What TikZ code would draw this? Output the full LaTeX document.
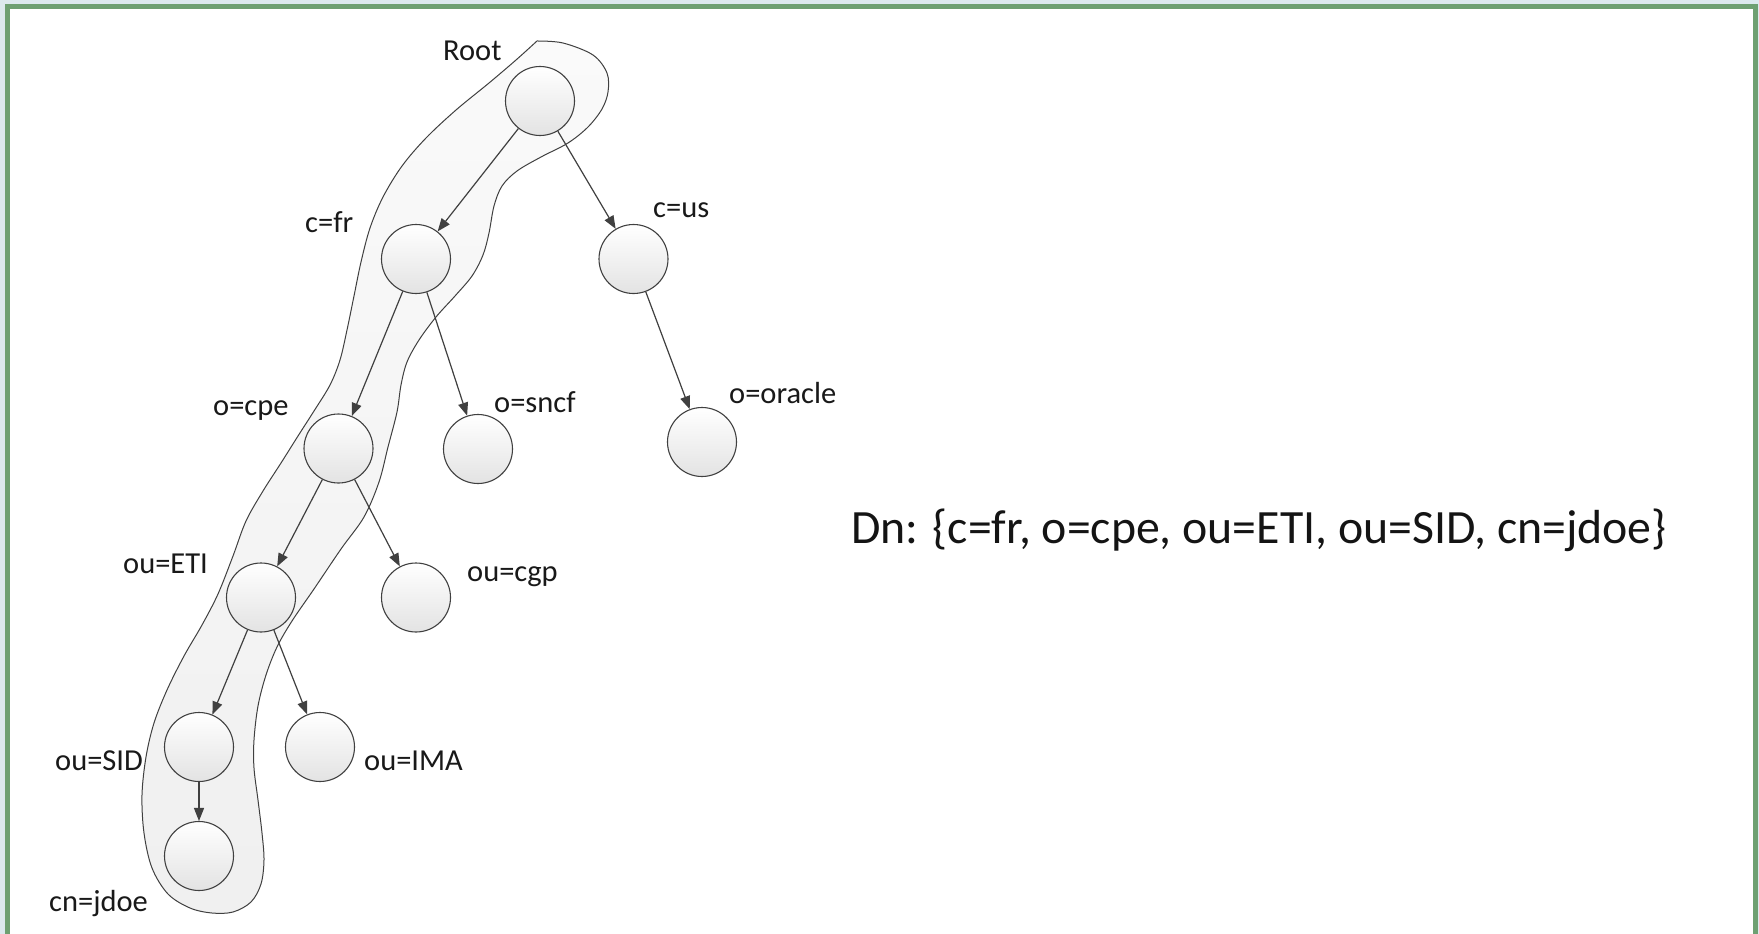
\documentclass[tikz,border=0pt]{standalone}
\usepackage{fontspec}
\setmainfont{Carlito}
\usetikzlibrary{arrows.meta}
\definecolor{framegreen}{RGB}{110,160,114}
\definecolor{outerblue}{RGB}{220,233,238}
\definecolor{edgegray}{RGB}{64,64,64}
\begin{document}
\begin{tikzpicture}[x=1pt,y=-1pt,
  entry/.style={circle, minimum size=69pt, inner sep=0pt, draw=edgegray,
    line width=1.1pt, top color=white, bottom color=black!11},
  tag/.style={anchor=base west, inner sep=0pt, text=black!90,
    font=\fontsize{30.5}{36}\selectfont},
  link/.style={draw=edgegray, line width=1.2pt,
    -{Triangle[length=13pt,width=10pt]}},
  band/.style={draw=edgegray, line width=1pt, top color=black!2,
    bottom color=black!6},
]
\path[use as bounding box] (0,0) rectangle (1759,934);

% page background and green frame (open at the bottom)
\fill[outerblue] (0,0) rectangle (1759,934);
\fill[white] (10,9) rectangle (1753,934);
\draw[framegreen, line width=5.5pt, line join=miter]
  (7.5,945) -- (7.5,6.5) -- (1755.5,6.5) -- (1755.5,945);

% band around the path Root -> cn=jdoe
\path[band] plot[smooth, tension=0.55] coordinates {
  (537,41) (563,43) (593,55) (607,73) (608,92) (602,109) (588,127)
  (568,143) (541,157) (517,171) (502,186) (494,206) (489,233) (483,255)
  (472,276) (455,296) (436,317) (419,340) (407,362) (401,385) (397,412)
  (388,447) (379,482) (364,517) (341,549) (314,589) (292,621) (277,647)
  (266,675) (258,706) (254,740) (254,768) (258,800) (262,833) (264,860)
  (261,884) (251,902) (233,912) (212,913) (190,908) (168,894) (152,868)
  (144,833) (142,795) (146,757) (154,723) (167,690) (184,656) (202,625)
  (218,594) (233,556) (246,521) (263,491) (281,463) (298,436) (314,411)
  (330,385) (340,360) (347,330) (354,296) (361,262) (370,228) (383,197)
  (402,166) (426,138) (456,110) (489,83) (516,60) (537,41)
} -- cycle;

% tree entries
\node[entry] (root) at (540,101) {};
\node[entry] (cfr) at (416,259) {};
\node[entry] (cus) at (633.5,259) {};
\node[entry] (ocpe) at (338.5,448.5) {};
\node[entry] (osncf) at (478,449) {};
\node[entry] (ooracle) at (702,442) {};
\node[entry] (oueti) at (261,597.5) {};
\node[entry] (oucgp) at (416,597.5) {};
\node[entry] (ousid) at (199,747) {};
\node[entry] (ouima) at (320,747) {};
\node[entry] (cnjdoe) at (199,856) {};

% entry names
\node[tag] (lroot) at (443,61) {Root};
\node[tag] (lcfr) at (305,232) {c=fr};
\node[tag] (lcus) at (653,217) {c=us};
\node[tag] (locpe) at (213,415) {o=cpe};
\node[tag] (losncf) at (494,412) {o=sncf};
\node[tag] (looracle) at (729,403) {o=oracle};
\node[tag] (loueti) at (123,573) {ou=ETI};
\node[tag] (loucgp) at (467,581) {ou=cgp};
\node[tag] (lousid) at (55,770) {ou=SID};
\node[tag] (louima) at (364,770) {ou=IMA};
\node[tag] (lcnjdoe) at (49,911) {cn=jdoe};

% parent -> child links
\draw[link] (root) -- (cfr);
\draw[link] (root) -- (cus);
\draw[link] (cfr) -- (ocpe);
\draw[link] (cfr) -- (osncf);
\draw[link] (cus) -- (ooracle);
\draw[link] (ocpe) -- (oueti);
\draw[link] (ocpe) -- (oucgp);
\draw[link] (oueti) -- (ousid);
\draw[link] (oueti) -- (ouima);
\draw[link] (ousid) -- (cnjdoe);

% distinguished name
\node[anchor=base west, inner sep=0pt, text=black!92,
  font=\fontsize{47.8}{56}\selectfont] (dn) at (851,543)
  {Dn: \{c=fr, o=cpe, ou=ETI, ou=SID, cn=jdoe\}};
\end{tikzpicture}
\end{document}
